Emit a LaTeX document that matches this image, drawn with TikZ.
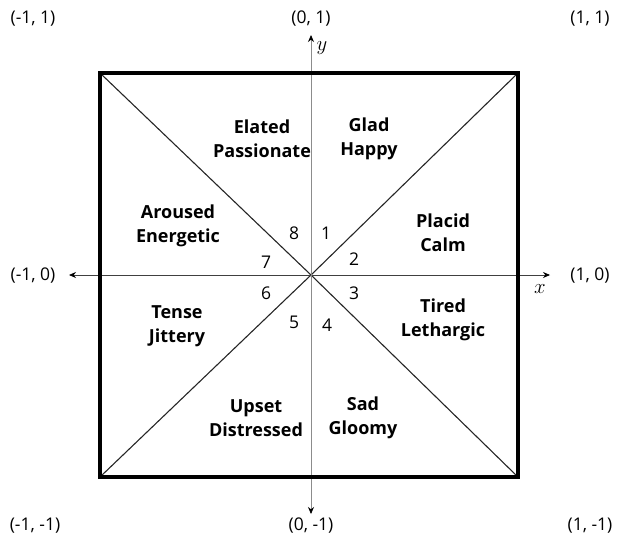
\documentclass[tikz,border=0pt]{standalone}
\usepackage{fontspec}
\setmainfont{Open Sans}
\usetikzlibrary{arrows.meta}
\begin{document}
\begin{tikzpicture}[x=1pt,y=-1pt,
  coordlbl/.style={font=\fontsize{17.5}{19}\selectfont, inner sep=0pt},
  region/.style={font=\fontsize{18}{24}\selectfont\bfseries, align=center, inner sep=0pt},
  num/.style={font=\fontsize{17.5}{19}\selectfont, inner sep=0pt},
  axislbl/.style={font=\fontsize{21}{22}\selectfont, inner sep=0pt},
  axisline/.style={line width=0.8pt, -{Stealth[length=7pt,width=6pt,color=black]}},
]
\useasboundingbox (0,0) rectangle (620,541);
% square corners
\coordinate (tl) at (100,73);
\coordinate (tr) at (518,73);
\coordinate (br) at (518,477);
\coordinate (bl) at (100,477);
\coordinate (o) at (311,275);
% axis endpoints
\coordinate (xl) at (69,275);
\coordinate (xr) at (550,275);
\coordinate (yt) at (311,35);
\coordinate (yb) at (311,514);
% diagonals
\draw[line width=1.1pt, black!85] (tl) -- (o) -- (br);
\draw[line width=1.1pt, black!85] (bl) -- (o) -- (tr);
% axes
\draw[axisline, black!75] (o) -- (xl);
\draw[axisline, black!75] (o) -- (xr);
\draw[axisline, black!45] (o) -- (yt);
\draw[axisline, black!45] (o) -- (yb);
% square
\draw[line width=3.2pt] (tl) -- (tr) -- (br) -- (bl) -- cycle;
% axis labels
\node[axislbl] (ylab) at (322,48) {$y$};
\node[axislbl] (xlab) at (540,289) {$x$};
% coordinate labels
\node[coordlbl] (c1) at (33,19) {(-1, 1)};
\node[coordlbl] (c2) at (311,19) {(0, 1)};
\node[coordlbl] (c3) at (590,19) {(1, 1)};
\node[coordlbl] (c4) at (33,276) {(-1, 0)};
\node[coordlbl] (c5) at (590,276) {(1, 0)};
\node[coordlbl] (c6) at (35,526) {(-1, -1)};
\node[coordlbl] (c7) at (311,526) {(0, -1)};
\node[coordlbl] (c8) at (590,526) {(1, -1)};
% regions
\node[region] (r8) at (262,139) {Elated\\Passionate};
\node[region] (r1) at (369,139) {Glad\\Happy};
\node[region] (r7) at (178,226) {Aroused\\Energetic};
\node[region] (r2) at (443,233) {Placid\\Calm};
\node[region] (r6) at (177,326) {Tense\\Jittery};
\node[region] (r3) at (443,320) {Tired\\Lethargic};
\node[region] (r5) at (256,418) {Upset\\Distressed};
\node[region] (r4) at (363,418) {Sad\\Gloomy};
% numbers
\node[num] (n8) at (294,233) {8};
\node[num] (n1) at (326,233) {1};
\node[num] (n7) at (266,262) {7};
\node[num] (n2) at (354,259) {2};
\node[num] (n6) at (266,293) {6};
\node[num] (n3) at (354,293) {3};
\node[num] (n5) at (294,322) {5};
\node[num] (n4) at (327,325) {4};
\end{tikzpicture}
\end{document}
